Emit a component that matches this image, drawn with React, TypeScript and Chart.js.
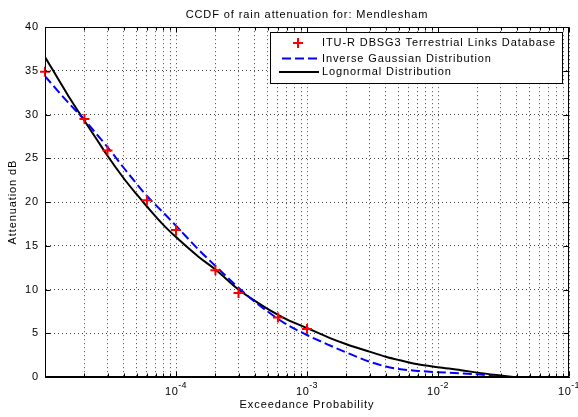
import React, { useEffect, useRef } from 'react';
import { Chart, registerables } from 'chart.js';

Chart.register(...registerables);

// ---------- data ----------
const TITLE = 'CCDF of rain attenuation for: Mendlesham';
const X_TITLE = 'Exceedance Probability';
const Y_TITLE = 'Attenuation dB';
const SERIES_NAMES = [
  'ITU-R DBSG3 Terrestrial Links Database',
  'Inverse Gaussian Distribution',
  'Lognormal Distribution',
];

// measured points (red crosses)
const measuredP = [1e-5, 2e-5, 3e-5, 6e-5, 1e-4, 2e-4, 3e-4, 6e-4, 1e-3];
const measuredA = [34.9, 29.5, 25.9, 20.2, 16.8, 12.2, 9.6, 6.8, 5.5];

// inverse Gaussian fit (blue dashed)
const invGaussP = [1e-5, 1.5e-5, 2e-5, 2.5e-5, 3e-5, 4e-5, 5e-5, 6e-5, 8e-5, 1e-4, 1.5e-4, 2e-4, 3e-4, 4e-4, 5e-4, 7e-4, 1e-3, 1.5e-3, 2e-3, 3e-3, 4e-3, 5e-3, 7e-3, 1e-2, 1.5e-2, 2e-2, 2.5e-2, 3e-2];
const invGaussA = [34.4, 31.4, 29.4, 27.7, 26.3, 23.9, 22.1, 20.7, 18.8, 17.3, 14.5, 12.7, 10.2, 8.6, 7.5, 6.0, 4.8, 3.6, 2.8, 1.75, 1.2, 0.92, 0.7, 0.55, 0.42, 0.3, 0.15, 0];

// lognormal fit (black solid)
const lognormP = [1e-5, 1.5e-5, 2e-5, 2.5e-5, 3e-5, 4e-5, 5e-5, 6e-5, 8e-5, 1e-4, 1.5e-4, 2e-4, 3e-4, 4e-4, 5e-4, 7e-4, 1e-3, 1.5e-3, 2e-3, 3e-3, 4e-3, 5e-3, 7e-3, 1e-2, 1.5e-2, 2e-2, 3e-2, 3.75e-2];
const lognormA = [36.6, 32.2, 29.3, 27.1, 25.3, 22.7, 20.9, 19.5, 17.4, 16.0, 13.7, 12.3, 10.0, 8.7, 7.8, 6.6, 5.6, 4.45, 3.75, 2.9, 2.32, 1.95, 1.45, 1.12, 0.78, 0.5, 0.17, 0];

// axes
const X_MIN = 1e-5;
const X_MAX = 1e-1;
const X_DECADES = [1e-5, 1e-4, 1e-3, 1e-2, 1e-1];
const X_TICK_BASE = '10';
const X_TICK_EXPONENTS = ['', '-4', '-3', '-2', '-1'];
const X_MINOR_MULTIPLIERS = [1, 2, 3, 4, 5, 6, 7, 8, 9];
const Y_MIN = 0;
const Y_MAX = 40;
const Y_STEP = 5;

const FONT = "'Liberation Sans', Arial, Helvetica, sans-serif";
const LETTER_SPACING = '0.9px';

const isDecade = (v: number) => Math.abs(Math.log10(v) - Math.round(Math.log10(v))) < 1e-6;

const spacingPlugin = {
  id: 'letterSpacing',
  beforeLayout(chart: any) {
    (chart.ctx as any).letterSpacing = LETTER_SPACING;
  },
  beforeDraw(chart: any) {
    (chart.ctx as any).letterSpacing = LETTER_SPACING;
  },
};

const boxPlugin = {
  id: 'matlabBox',
  afterDatasetsDraw(chart: any) {
    const { ctx, chartArea } = chart;
    const l = Math.round(chartArea.left) + 0.5;
    const t = Math.round(chartArea.top) + 0.5;
    const r = Math.round(chartArea.right) - 0.5;
    const b = Math.round(chartArea.bottom) - 0.5;
    ctx.save();
    ctx.strokeStyle = '#000';
    ctx.lineWidth = 1;
    ctx.setLineDash([]);
    ctx.strokeRect(l, t, r - l, b - t);
    const xs = chart.scales.x;
    const ys = chart.scales.y;
    ctx.beginPath();
    xs.ticks.forEach((tk: any) => {
      const px = Math.round(xs.getPixelForValue(tk.value)) + 0.5;
      const len = isDecade(tk.value) ? 5 : 3;
      ctx.moveTo(px, b);
      ctx.lineTo(px, b - len);
      ctx.moveTo(px, t);
      ctx.lineTo(px, t + len);
    });
    ys.ticks.forEach((tk: any) => {
      const py = Math.round(ys.getPixelForValue(tk.value)) + 0.5;
      ctx.moveTo(l, py);
      ctx.lineTo(l + 5, py);
      ctx.moveTo(r, py);
      ctx.lineTo(r - 5, py);
    });
    ctx.stroke();

    // decade labels with superscript exponents
    const baseY = Math.round(chartArea.bottom) + 17.5;
    const supY = baseY - 6.5;
    ctx.fillStyle = '#000';
    ctx.textBaseline = 'alphabetic';
    ctx.textAlign = 'left';
    X_DECADES.forEach((d, i) => {
      const exp = X_TICK_EXPONENTS[i];
      if (!exp) return;
      const px = xs.getPixelForValue(d);
      (ctx as any).letterSpacing = '0.5px';
      ctx.font = `11px ${FONT}`;
      const wBase = ctx.measureText(X_TICK_BASE).width;
      (ctx as any).letterSpacing = '0.3px';
      ctx.font = `9px ${FONT}`;
      const wExp = ctx.measureText(exp).width;
      const x0 = px - (wBase + wExp) / 2;
      (ctx as any).letterSpacing = '0.5px';
      ctx.font = `11px ${FONT}`;
      ctx.fillText(X_TICK_BASE, x0, baseY);
      (ctx as any).letterSpacing = '0.3px';
      ctx.font = `9px ${FONT}`;
      ctx.fillText(exp, x0 + wBase, supY);
    });
    ctx.restore();
  },
};

const legendPlugin = {
  id: 'matlabLegend',
  afterDraw(chart: any) {
    const { ctx, chartArea } = chart;
    const datasets = chart.data.datasets;
    ctx.save();
    (ctx as any).letterSpacing = LETTER_SPACING;
    ctx.font = `11px ${FONT}`;
    let maxW = 0;
    datasets.forEach((d: any) => {
      maxW = Math.max(maxW, ctx.measureText(d.label).width);
    });
    const right = Math.round(chartArea.right) - 7;
    const top = Math.round(chartArea.top) + 5;
    const textOffset = 52;
    const width = textOffset + maxW + 6;
    const left = Math.round(right - width);
    const height = 51;
    ctx.fillStyle = '#fff';
    ctx.fillRect(left, top, right - left, height);
    ctx.strokeStyle = '#000';
    ctx.lineWidth = 1;
    ctx.strokeRect(left + 0.5, top + 0.5, right - left, height);
    const rows = [11, 26.5, 40];
    datasets.forEach((d: any, i: number) => {
      const y = top + rows[i];
      ctx.save();
      if (d.showLine === false) {
        ctx.strokeStyle = d.borderColor;
        ctx.lineWidth = 2;
        const cx = left + 28;
        ctx.beginPath();
        ctx.moveTo(cx - 5, y);
        ctx.lineTo(cx + 5, y);
        ctx.moveTo(cx, y - 5);
        ctx.lineTo(cx, y + 5);
        ctx.stroke();
      } else {
        ctx.strokeStyle = d.borderColor;
        ctx.lineWidth = d.borderWidth;
        ctx.setLineDash(d.borderDash || []);
        ctx.beginPath();
        ctx.moveTo(left + (d.borderDash ? 12 : 9), y);
        ctx.lineTo(left + 49, y);
        ctx.stroke();
      }
      ctx.restore();
      ctx.fillStyle = '#000';
      ctx.textBaseline = 'middle';
      ctx.textAlign = 'left';
      ctx.fillText(d.label, left + textOffset, y);
    });
    ctx.restore();
  },
};

export default function App() {
  const canvasRef = useRef<HTMLCanvasElement | null>(null);

  useEffect(() => {
    document.body.style.margin = '0';
    const canvas = canvasRef.current;
    if (!canvas) return;
    const c2d = canvas.getContext('2d') as any;
    if (c2d) c2d.letterSpacing = LETTER_SPACING;

    const xGrid: number[] = [];
    X_DECADES.forEach((d, i) => {
      if (i === X_DECADES.length - 1) {
        xGrid.push(d);
      } else {
        X_MINOR_MULTIPLIERS.forEach((m) => xGrid.push(d * m));
      }
    });

    const chart = new Chart(canvas, {
      type: 'scatter',
      data: {
        datasets: [
          {
            label: SERIES_NAMES[0],
            data: measuredP.map((p, i) => ({ x: p, y: measuredA[i] })),
            showLine: false,
            pointStyle: 'cross',
            pointRadius: 5,
            pointBorderWidth: 2,
            borderColor: '#ff0000',
            backgroundColor: '#ff0000',
            clip: false as any,
            order: 0,
          },
          {
            label: SERIES_NAMES[1],
            data: invGaussP.map((p, i) => ({ x: p, y: invGaussA[i] })),
            showLine: true,
            pointRadius: 0,
            borderColor: '#0000ff',
            borderWidth: 2,
            borderDash: [9, 4],
            cubicInterpolationMode: 'monotone',
            order: 1,
          },
          {
            label: SERIES_NAMES[2],
            data: lognormP.map((p, i) => ({ x: p, y: lognormA[i] })),
            showLine: true,
            pointRadius: 0,
            borderColor: '#000000',
            borderWidth: 2,
            cubicInterpolationMode: 'monotone',
            order: 2,
          },
        ],
      },
      options: {
        responsive: false,
        animation: false,
        devicePixelRatio: 1,
        layout: { padding: { left: 0, right: 9, top: 0, bottom: 0 } },
        plugins: {
          legend: { display: false },
          tooltip: { enabled: false },
          title: {
            display: true,
            fullSize: false,
            text: TITLE,
            color: '#000',
            font: { family: FONT, size: 11, weight: 'normal', lineHeight: 1.2 },
            padding: { top: 8, bottom: 6 },
          },
        },
        scales: {
          x: {
            type: 'logarithmic',
            min: X_MIN,
            max: X_MAX,
            afterBuildTicks: (axis: any) => {
              axis.ticks = xGrid.map((v) => ({ value: v, major: isDecade(v) }));
            },
            afterFit: (s: any) => {
              s.height = 40;
              s.paddingLeft = 0;
              s.paddingRight = 0;
            },
            ticks: {
              autoSkip: false,
              maxRotation: 0,
              minRotation: 0,
              padding: 7,
              color: '#000',
              font: { family: FONT, size: 11 },
              // decade labels (10 with superscript exponent) are drawn by the box plugin
              callback: () => '',
            },
            grid: { color: '#444', lineWidth: 1, drawTicks: false },
            border: { display: true, color: '#000', width: 1, dash: [1, 3] },
            title: {
              display: true,
              text: X_TITLE,
              color: '#000',
              font: { family: FONT, size: 11, lineHeight: 1.2 },
              padding: { top: 0, bottom: 5 },
            },
          },
          y: {
            type: 'linear',
            min: Y_MIN,
            max: Y_MAX,
            afterFit: (s: any) => {
              s.width = 45;
            },
            ticks: {
              stepSize: Y_STEP,
              padding: 6,
              color: '#000',
              font: { family: FONT, size: 11 },
            },
            grid: { color: '#444', lineWidth: 1, drawTicks: false },
            border: { display: true, color: '#000', width: 1, dash: [1, 3] },
            title: {
              display: true,
              text: Y_TITLE,
              color: '#000',
              font: { family: FONT, size: 11, lineHeight: 1.2 },
              padding: { top: 6, bottom: 0 },
            },
          },
        },
      },
      plugins: [spacingPlugin, boxPlugin, legendPlugin],
    } as any);

    return () => {
      chart.destroy();
    };
  }, []);

  return (
    <div style={{ position: 'absolute', left: 0, top: 0, width: 578, height: 417, background: '#fff' }}>
      <canvas ref={canvasRef} width={578} height={417} />
    </div>
  );
}
